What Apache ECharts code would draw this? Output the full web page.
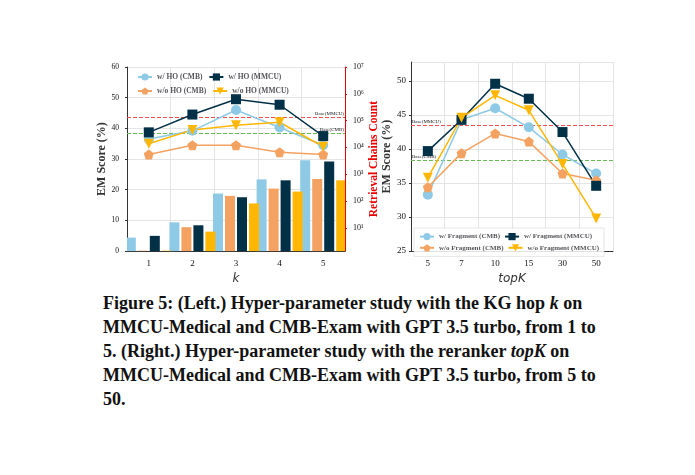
<!DOCTYPE html>
<html>
<head>
<meta charset="UTF-8">
<script src="https://cdn.jsdelivr.net/npm/echarts@6/dist/echarts.min.js"></script>
<style>
  * { margin: 0; padding: 0; }
  body { width: 695px; height: 475px; background: #fff; }
  #chart { width: 695px; height: 290px; }
  #cap { position: absolute; left: 103px; top: 291px; width: 500px; font-family: "Liberation Serif", serif; font-weight: bold; font-size: 18px; line-height: 24px; color: #111; }
</style>
</head>
<body>
<div id="chart"></div>
<div id="cap">Figure 5: (Left.) Hyper-parameter study with the KG hop <i>k</i> on MMCU-Medical and CMB-Exam with GPT 3.5 turbo, from 1 to 5. (Right.) Hyper-parameter study with the reranker <i>topK</i> on MMCU-Medical and CMB-Exam with GPT 3.5 turbo, from 5 to 50.</div>
<script>
  // left: hop k
  let kCats = ['1', '2', '3', '4', '5'];
  let hoCmbW = [36.5, 39.2, 46.0, 40.3, 34.5];
  let hoCmbWo = [31.5, 34.5, 34.5, 32.2, 31.5];
  let hoMmcuW = [38.7, 44.5, 49.5, 47.7, 37.5];
  let hoMmcuWo = [35.0, 39.5, 41.0, 42.0, 34.0];
  // retrieval chains counts
  let cntCmbW = [4.3, 16, 190, 640, 3300];
  let cntCmbWo = [1.4, 10.5, 155, 290, 660];
  let cntMmcuW = [5, 12.4, 138, 590, 2950];
  let cntMmcuWo = [1.4, 7.2, 81, 225, 590];
  // right: topK
  let topCats = ['5', '7', '10', '15', '30', '50'];
  let frCmbW = [33.3, 44.3, 46.0, 43.2, 39.2, 36.4];
  let frCmbWo = [34.4, 39.4, 42.3, 41.1, 36.4, 35.4];
  let frMmcuW = [39.7, 44.3, 49.6, 47.4, 42.5, 34.6];
  let frMmcuWo = [35.8, 44.6, 47.9, 45.7, 37.8, 29.8];
  let baseMmcu = 43.5, baseCmb = 38.4;

  const C1 = '#8ecae6', C2 = '#f4a261', C3 = '#023047', C4 = '#ffb703';
  const pent = 'path://M0,-10 L9.5,-3.1 L5.9,8.1 L-5.9,8.1 L-9.5,-3.1 Z';
  const font = 'Liberation Serif';
  const sup = ['⁰', '¹', '²', '³', '⁴', '⁵', '⁶', '⁷'];
  const lg = a => a.map(v => Math.log10(v));

  function line(name, data, color, sym, size, x, y) {
    return { name: name, type: 'line', data: data, xAxisIndex: x, yAxisIndex: y, symbol: sym, symbolSize: size,
      symbolRotate: sym === 'triangle' ? 180 : 0,
      lineStyle: { color: color, width: 1.5 }, itemStyle: { color: color }, z: 5 };
  }
  function bar(data, color) {
    return { type: 'bar', data: lg(data), xAxisIndex: 0, yAxisIndex: 1, itemStyle: { color: color }, barWidth: 10, barGap: '20%', silent: true };
  }
  function base(y, color, label, x, yi) {
    return { type: 'line', data: [], xAxisIndex: x, yAxisIndex: yi, color: color,
      markLine: { silent: true, symbol: 'none', data: [{ yAxis: y, label: { formatter: label } }],
        lineStyle: { color: color, type: 'dashed', width: 1 },
        label: { position: x === 0 ? 'insideEndTop' : 'insideStartTop', fontSize: 5, fontFamily: font, color: '#222', distance: 1 } } };
  }
  const gridLine = { show: true, lineStyle: { color: '#e4e4e4' } };
  const axisTxt = { fontFamily: font, fontSize: 9, color: '#111' };

  var myChart = echarts.init(document.getElementById('chart'));
  option = {
    animation: false,
    grid: [
      { left: 127, top: 67, width: 218, height: 195 },
      { left: 411, top: 62, width: 202, height: 194 }
    ],
    legend: [
      { left: 132, top: 68, width: 200, itemWidth: 14, itemHeight: 9, itemGap: 6, textStyle: { fontFamily: font, fontSize: 7.5, fontWeight: 'bold' },
        data: ['w/ HO (CMB)', 'w/ HO (MMCU)', 'w/o HO (CMB)', 'w/o HO (MMCU)'] },
      { left: 414, top: 228, width: 200, itemWidth: 14, itemHeight: 9, itemGap: 4, textStyle: { fontFamily: font, fontSize: 7, fontWeight: 'bold' },
        data: ['w/ Fragment (CMB)', 'w/ Fragment (MMCU)', 'w/o Fragment (CMB)', 'w/o Fragment (MMCU)'], backgroundColor: 'rgba(255,255,255,0.85)', borderColor: '#ccc', borderWidth: 0.5 }
    ],
    xAxis: [
      { type: 'category', gridIndex: 0, data: kCats, name: 'k', nameLocation: 'middle', nameGap: 12,
        nameTextStyle: { fontFamily: 'DejaVu Sans', fontStyle: 'italic', fontSize: 12 }, axisLabel: axisTxt,
        axisLine: { lineStyle: { color: '#333' } }, axisTick: { show: false }, splitLine: gridLine },
      { type: 'category', gridIndex: 1, data: topCats, boundaryGap: ['4%', '0%'], name: 'topK', nameLocation: 'middle', nameGap: 14,
        nameTextStyle: { fontFamily: 'DejaVu Sans', fontStyle: 'italic', fontSize: 12 }, axisLabel: axisTxt,
        axisLine: { lineStyle: { color: '#333' } }, axisTick: { show: false }, splitLine: gridLine }
    ],
    yAxis: [
      { type: 'value', gridIndex: 0, min: 0, max: 60, interval: 10, name: 'EM Score (%)', nameLocation: 'middle', nameGap: 18,
        nameTextStyle: { fontFamily: font, fontWeight: 'bold', fontSize: 12 }, axisLabel: Object.assign({}, axisTxt, { fontSize: 7.5 }),
        axisLine: { show: true, lineStyle: { color: '#333' } }, axisTick: { show: true, length: 2 }, splitLine: gridLine },
      { type: 'value', gridIndex: 0, position: 'right', min: 0.13, max: 7.0, name: 'Retrieval Chains Count', nameLocation: 'middle', nameGap: 19,
        nameTextStyle: { fontFamily: font, fontWeight: 'bold', fontSize: 11.5, color: '#e00' },
        axisLine: { show: true, lineStyle: { color: '#e00' } },
        axisTick: { show: true, length: 2, customValues: [1, 2, 3, 4, 5, 6, 7] },
        axisLabel: { customValues: [1, 2, 3, 4, 5, 6, 7], formatter: v => '10' + sup[Math.round(v)], fontFamily: font, fontSize: 8, color: '#111' },
        splitLine: { show: false } },
      { type: 'value', gridIndex: 1, min: 25, max: 52.8, interval: 5, name: 'EM Score (%)', nameLocation: 'middle', nameGap: 17,
        nameTextStyle: { fontFamily: font, fontWeight: 'bold', fontSize: 12 },
        axisLabel: Object.assign({}, axisTxt, { showMaxLabel: false, margin: 5 }),
        axisLine: { show: true, lineStyle: { color: '#333' } }, axisTick: { show: true, length: 2 }, splitLine: gridLine }
    ],
    series: [
      bar(cntCmbW, C1), bar(cntCmbWo, C2), bar(cntMmcuW, C3), bar(cntMmcuWo, C4),
      base(baseMmcu, '#f05050', 'Base(MMCU)', 0, 0),
      base(baseCmb, '#66bb55', 'Base(CMB)', 0, 0),
      line('w/ HO (CMB)', hoCmbW, C1, 'circle', 10, 0, 0),
      line('w/o HO (CMB)', hoCmbWo, C2, pent, 10, 0, 0),
      line('w/ HO (MMCU)', hoMmcuW, C3, 'rect', 10, 0, 0),
      line('w/o HO (MMCU)', hoMmcuWo, C4, 'triangle', 10, 0, 0),
      base(baseMmcu, '#f05050', 'Base(MMCU)', 1, 2),
      base(baseCmb, '#66bb55', 'Base(CMB)', 1, 2),
      line('w/ Fragment (CMB)', frCmbW, C1, 'circle', 10, 1, 2),
      line('w/o Fragment (CMB)', frCmbWo, C2, pent, 10, 1, 2),
      line('w/ Fragment (MMCU)', frMmcuW, C3, 'rect', 10, 1, 2),
      line('w/o Fragment (MMCU)', frMmcuWo, C4, 'triangle', 10, 1, 2)
    ]
  };
  myChart.setOption(option);
</script>
</body>
</html>
